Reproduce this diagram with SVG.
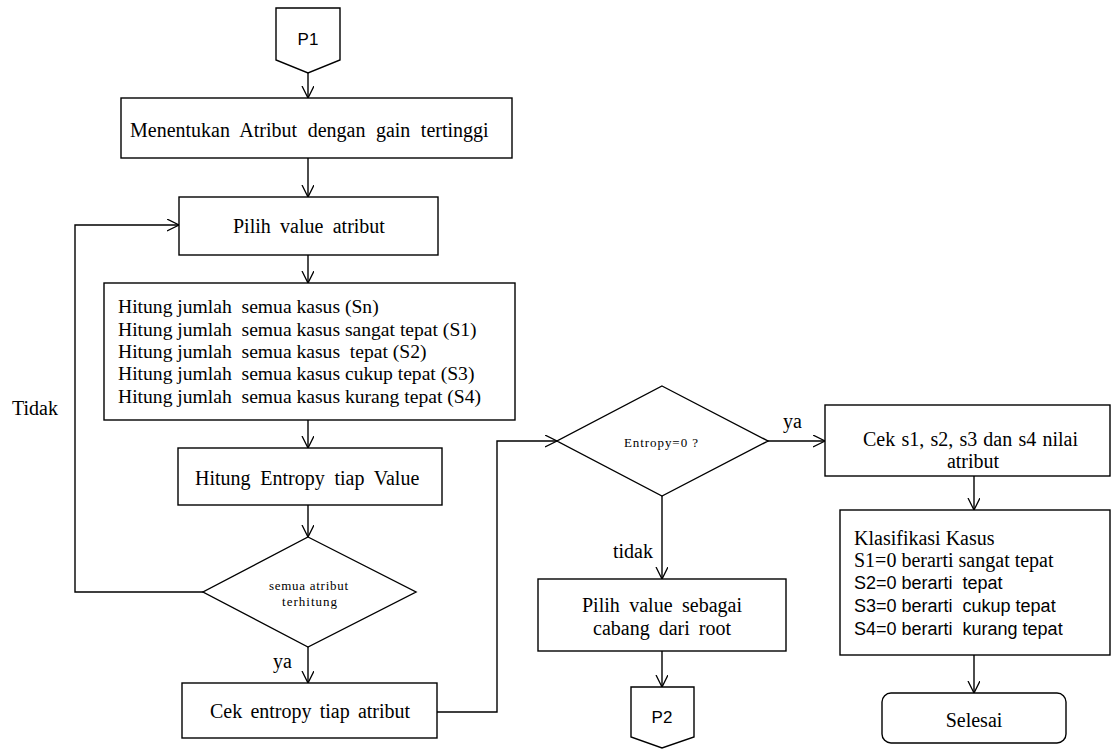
<svg xmlns="http://www.w3.org/2000/svg" width="1119" height="749" viewBox="0 0 1119 749">
<defs>
<marker id="arr" markerUnits="userSpaceOnUse" markerWidth="14" markerHeight="14" refX="12" refY="6" orient="auto">
<path d="M0,0 L12,6 L0,12" fill="none" stroke="#000" stroke-width="1.3"/>
</marker>
<style>
.b{fill:#fff;stroke:#000;stroke-width:1.4}
.c{fill:none;stroke:#000;stroke-width:1.4;marker-end:url(#arr)}
.m{text-anchor:middle}
.p{white-space:pre}
</style>
</defs>
<rect width="1119" height="749" fill="#fff"/>
<g id="connectors">
<line class="c" x1="308" y1="73" x2="308" y2="98"/>
<line class="c" x1="308" y1="158" x2="308" y2="197"/>
<line class="c" x1="308" y1="255" x2="308" y2="283"/>
<line class="c" x1="308" y1="420" x2="308" y2="448"/>
<line class="c" x1="308" y1="505" x2="308" y2="537"/>
<line class="c" x1="308" y1="647" x2="308" y2="683"/>
<polyline class="c" points="203,592 75,592 75,225 179,225"/>
<polyline class="c" points="437,712 497,712 497,441 557,441"/>
<line class="c" x1="768" y1="441" x2="825" y2="441"/>
<line class="c" x1="662" y1="496" x2="662" y2="579"/>
<line class="c" x1="662" y1="651" x2="662" y2="687"/>
<line class="c" x1="974" y1="476" x2="974" y2="510"/>
<line class="c" x1="974" y1="655" x2="974" y2="693"/>
<g font-family="Liberation Serif, Times New Roman, serif" font-size="20" fill="#000">
<text x="12" y="415">Tidak</text>
<text x="273" y="668">ya</text>
<text x="783" y="428">ya</text>
<text x="613" y="558">tidak</text>
</g>
</g>
<g id="p1">
<polygon class="b" points="276,8 340,8 340,60 308,73 276,60"/>
<text class="m" x="308" y="45" font-family="Liberation Sans, Arial, sans-serif" font-size="17" fill="#000">P1</text>
</g>
<g font-family="Liberation Serif, Times New Roman, serif" font-size="20" fill="#000">
<g id="menentukan">
<rect class="b" x="121" y="98" width="391" height="60"/>
<text x="130" y="137" word-spacing="5.5">Menentukan Atribut dengan gain tertinggi</text>
</g>
<g id="pilih-value">
<rect class="b" x="179" y="197" width="259" height="58"/>
<text x="233" y="233" word-spacing="4.3">Pilih value atribut</text>
</g>
<g id="hitung-jumlah" font-size="19.6">
<rect class="b" x="104" y="283" width="411" height="137"/>
<text class="p" x="118" y="313" xml:space="preserve">Hitung jumlah  semua kasus (Sn)</text>
<text class="p" x="118" y="336" xml:space="preserve">Hitung jumlah  semua kasus sangat tepat (S1)</text>
<text class="p" x="118" y="358" xml:space="preserve">Hitung jumlah  semua kasus  tepat (S2)</text>
<text class="p" x="118" y="380" xml:space="preserve">Hitung jumlah  semua kasus cukup tepat (S3)</text>
<text class="p" x="118" y="403" xml:space="preserve">Hitung jumlah  semua kasus kurang tepat (S4)</text>
</g>
<g id="hitung-entropy">
<rect class="b" x="178" y="448" width="264" height="57"/>
<text x="195" y="485" word-spacing="4.7">Hitung Entropy tiap Value</text>
</g>
<g id="semua-atribut" font-size="13">
<polygon class="b" points="308,537 416,592 308,647 203,592"/>
<text x="269" y="590" textLength="79" lengthAdjust="spacing">semua atribut</text>
<text x="282" y="606" textLength="55" lengthAdjust="spacing">terhitung</text>
</g>
<g id="cek-entropy">
<rect class="b" x="182" y="683" width="255" height="55"/>
<text x="210" y="718" word-spacing="3.2">Cek entropy tiap atribut</text>
</g>
<g id="entropy0" font-size="13">
<polygon class="b" points="662,386 768,441 662,496 557,441"/>
<text x="624" y="447" textLength="74" lengthAdjust="spacing">Entropy=0 ?</text>
</g>
<g id="pilih-cabang">
<rect class="b" x="538" y="579" width="248" height="72"/>
<text class="m" x="662" y="612" word-spacing="4.5">Pilih value sebagai</text>
<text class="m" x="662" y="635" word-spacing="4">cabang dari root</text>
</g>
<g id="cek-s">
<rect class="b" x="825" y="405" width="285" height="71"/>
<text x="863" y="446" word-spacing="1.2">Cek s1, s2, s3 dan s4 nilai</text>
<text class="m" x="973" y="468">atribut</text>
</g>
<g id="klasifikasi">
<rect class="b" x="840" y="510" width="270" height="145"/>
<text x="854" y="545">Klasifikasi Kasus</text>
<text x="854" y="567">S1=0 berarti sangat tepat</text>
<g font-family="Liberation Sans, Arial, sans-serif" font-size="18">
<text class="p" x="854" y="589" xml:space="preserve">S2=0 berarti  tepat</text>
<text class="p" x="854" y="612" xml:space="preserve">S3=0 berarti  cukup tepat</text>
<text class="p" x="854" y="635" xml:space="preserve">S4=0 berarti  kurang tepat</text>
</g>
</g>
<g id="selesai">
<rect class="b" x="882" y="693" width="184" height="50" rx="9"/>
<text class="m" x="974" y="727">Selesai</text>
</g>
</g>
<g id="p2">
<polygon class="b" points="631,687 694,687 694,737 662,748 631,737"/>
<text class="m" x="662" y="723" font-family="Liberation Sans, Arial, sans-serif" font-size="17" fill="#000">P2</text>
</g>
</svg>
